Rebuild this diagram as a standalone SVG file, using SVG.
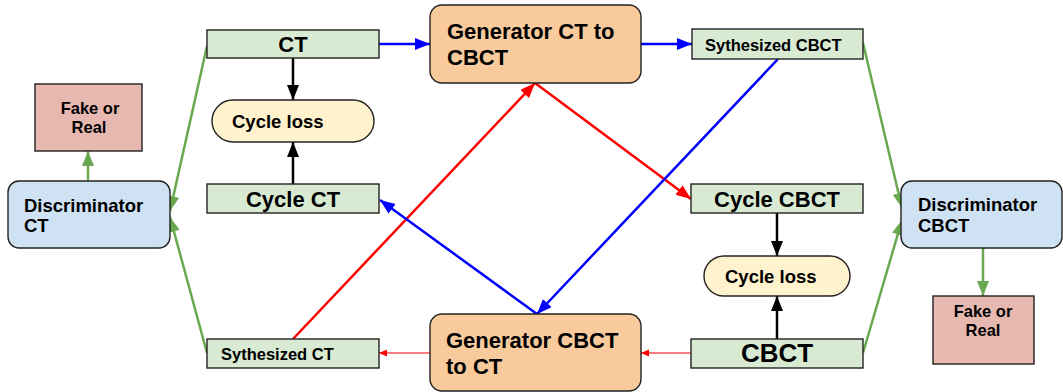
<svg xmlns="http://www.w3.org/2000/svg" width="1063" height="392" viewBox="0 0 1063 392">
<style>
text{font-family:"Liberation Sans",Arial,sans-serif;font-weight:bold;fill:#000}
.box{stroke:#222;stroke-width:1.4}
.g{fill:#d9ead3}.o{fill:#f9cb9c}.b{fill:#cfe2f3}.r{fill:#e6b8af}.y{fill:#fff2cc}
.ln{fill:none;stroke-width:2.5}
.gr{stroke:#6aa84f}.bl{stroke:#0000ff}.rd{stroke:#ff0000}.bk{stroke:#000}
</style>
<defs>
<marker id="ag" markerUnits="userSpaceOnUse" markerWidth="16" markerHeight="14" refX="15" refY="6" orient="auto"><path d="M0,0L15,6L0,12z" fill="#6aa84f"/></marker>
<marker id="ab" markerUnits="userSpaceOnUse" markerWidth="16" markerHeight="14" refX="15" refY="6" orient="auto"><path d="M0,0L15,6L0,12z" fill="#0000ff"/></marker>
<marker id="ar" markerUnits="userSpaceOnUse" markerWidth="16" markerHeight="14" refX="15" refY="6" orient="auto"><path d="M0,0L15,6L0,12z" fill="#ff0000"/></marker>
<marker id="ak" markerUnits="userSpaceOnUse" markerWidth="16" markerHeight="14" refX="15" refY="6" orient="auto"><path d="M0,0L15,6L0,12z" fill="#000"/></marker>
<marker id="ars" markerUnits="userSpaceOnUse" markerWidth="9" markerHeight="8" refX="8" refY="3.5" orient="auto"><path d="M0,0L8,3.5L0,7z" fill="#ff0000"/></marker>
</defs>
<g id="connectors">
<line class="ln bl" x1="379" y1="44" x2="430" y2="44" marker-end="url(#ab)"/>
<line class="ln bl" x1="641" y1="44" x2="692" y2="44" marker-end="url(#ab)"/>
<line class="ln bk" x1="293" y1="58" x2="293" y2="100" marker-end="url(#ak)"/>
<line class="ln bk" x1="293" y1="184" x2="293" y2="142" marker-end="url(#ak)"/>
<line class="ln bk" x1="777" y1="213" x2="777" y2="256" marker-end="url(#ak)"/>
<line class="ln bk" x1="777" y1="339" x2="777" y2="296" marker-end="url(#ak)"/>
<line class="ln gr" x1="88" y1="181" x2="88" y2="151" marker-end="url(#ag)"/>
<line class="ln gr" x1="983" y1="248" x2="983" y2="296" marker-end="url(#ag)"/>
<line class="ln gr" x1="207" y1="46" x2="170" y2="211" marker-end="url(#ag)"/>
<line class="ln gr" x1="207" y1="353" x2="170" y2="217" marker-end="url(#ag)"/>
<line class="ln gr" x1="863" y1="43" x2="902" y2="208" marker-end="url(#ag)"/>
<line class="ln gr" x1="863" y1="353" x2="902" y2="220" marker-end="url(#ag)"/>
<line class="ln rd" x1="293" y1="339" x2="535" y2="83" marker-end="url(#ar)"/>
<line class="ln rd" x1="535" y1="83" x2="691" y2="199" marker-end="url(#ar)"/>
<line class="ln bl" x1="778" y1="59" x2="537" y2="314" marker-end="url(#ab)"/>
<line class="ln bl" x1="537" y1="314" x2="380" y2="200" marker-end="url(#ab)"/>
<line fill="none" stroke="#ff0000" stroke-width="1.2" x1="430" y1="353" x2="379" y2="353" marker-end="url(#ars)"/>
<line fill="none" stroke="#ff0000" stroke-width="1.2" x1="691" y1="353" x2="641" y2="353" marker-end="url(#ars)"/>
</g>
<g id="ct"><rect class="box g" x="207" y="30" width="172" height="28"/><text x="293" y="52" font-size="22" text-anchor="middle">CT</text></g>
<g id="cycle-loss-ct"><rect class="box y" x="212" y="100" width="162" height="42" rx="21"/><text x="232" y="128" font-size="18.5">Cycle loss</text></g>
<g id="cycle-ct"><rect class="box g" x="207" y="184" width="172" height="29"/><text x="293" y="207" font-size="22" text-anchor="middle">Cycle CT</text></g>
<g id="fake-real-ct"><rect class="box r" x="35" y="84" width="107" height="67"/><text font-size="16.5" text-anchor="middle"><tspan x="90" y="114">Fake or</tspan><tspan x="89" y="133">Real</tspan></text></g>
<g id="disc-ct"><rect class="box b" x="8" y="181" width="162" height="67" rx="11"/><text font-size="18.5"><tspan x="24" y="212">Discriminator</tspan><tspan x="24" y="232">CT</tspan></text></g>
<g id="gen-ct-cbct"><rect class="box o" x="430" y="5" width="211" height="78" rx="12"/><text font-size="22"><tspan x="447" y="39">Generator CT to</tspan><tspan x="447" y="65">CBCT</tspan></text></g>
<g id="synth-cbct"><rect class="box g" x="692" y="29" width="171" height="30"/><text x="705" y="51" font-size="16.5">Sythesized CBCT</text></g>
<g id="cycle-cbct"><rect class="box g" x="691" y="184" width="172" height="29"/><text x="777" y="207" font-size="22" text-anchor="middle">Cycle CBCT</text></g>
<g id="cycle-loss-cbct"><rect class="box y" x="704" y="256" width="146" height="40" rx="20"/><text x="725" y="283" font-size="18.5">Cycle loss</text></g>
<g id="cbct"><rect class="box g" x="691" y="339" width="172" height="29"/><text x="777" y="362" font-size="26" text-anchor="middle">CBCT</text></g>
<g id="disc-cbct"><rect class="box b" x="901" y="181" width="161" height="67" rx="11"/><text font-size="18.5"><tspan x="918" y="211">Discriminator</tspan><tspan x="918" y="232">CBCT</tspan></text></g>
<g id="fake-real-cbct"><rect class="box r" x="933" y="296" width="101" height="68"/><text font-size="16.5" text-anchor="middle"><tspan x="983" y="317">Fake or</tspan><tspan x="983" y="336">Real</tspan></text></g>
<g id="synth-ct"><rect class="box g" x="207" y="339" width="172" height="29"/><text x="221" y="360" font-size="16.5">Sythesized CT</text></g>
<g id="gen-cbct-ct"><rect class="box o" x="430" y="314" width="211" height="77" rx="12"/><text font-size="22"><tspan x="446" y="348">Generator CBCT</tspan><tspan x="446" y="374">to CT</tspan></text></g>
</svg>
